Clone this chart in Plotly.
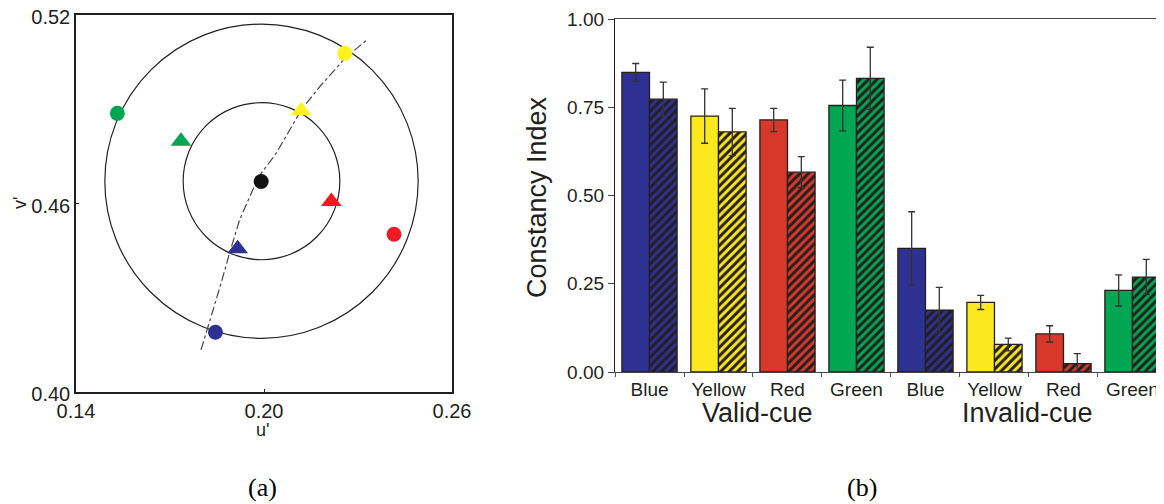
import plotly.graph_objects as go

# ---------------- Panel (a) data ----------------
circle_u = [0.1845, 0.2258, 0.2415, 0.1532]   # blue, yellow, red, green (outer ring)
circle_v = [0.4190, 0.5078, 0.4502, 0.4887]
tri_u = [0.1916, 0.2119, 0.2215, 0.1735]      # blue, yellow, red, green (inner ring)
tri_v = [0.4456, 0.4895, 0.4606, 0.4798]
point_colors = ["#2E3192", "#FFF21F", "#ED1C24", "#00A651"]
neutral_u = [0.1991]
neutral_v = [0.4670]
ring_center = (0.1992, 0.4671)
ring_radii = [0.025, 0.050]
locus_u = [0.1799, 0.1820, 0.1863, 0.1890, 0.1922, 0.1964, 0.1991, 0.2039,
           0.2082, 0.2119, 0.2178, 0.2258, 0.2325]
locus_v = [0.4134, 0.4203, 0.4346, 0.4442, 0.4548, 0.4643, 0.4696, 0.4760,
           0.4834, 0.4898, 0.4972, 0.5062, 0.5118]
a_xticks = [0.14, 0.20, 0.26]
a_yticks = [0.40, 0.46, 0.52]

# ---------------- Panel (b) data ----------------
categories = ["Blue", "Yellow", "Red", "Green", "Blue", "Yellow", "Red", "Green"]
bar_colors = ["#2E3192", "#FCE81E", "#D7382A", "#00A651",
              "#2E3192", "#FCE81E", "#D7382A", "#00A651"]
solid_vals = [0.849, 0.725, 0.714, 0.755, 0.350, 0.197, 0.108, 0.231]
solid_err = [0.025, 0.077, 0.033, 0.072, 0.104, 0.020, 0.023, 0.044]
hatch_vals = [0.773, 0.680, 0.566, 0.832, 0.175, 0.078, 0.024, 0.269]
hatch_err = [0.048, 0.067, 0.044, 0.088, 0.065, 0.018, 0.028, 0.050]
b_yticks = [0.0, 0.25, 0.5, 0.75, 1.0]
b_yticktext = ["0.00", "0.25", "0.50", "0.75", "1.00"]
group_labels = ["Valid-cue", "Invalid-cue"]

FONT = "Liberation Sans, Arial, sans-serif"
SERIF = "Liberation Serif, Times New Roman, serif"
DARK = "#231F20"

# The page body has an 8px margin, so the figure is drawn 8px smaller and
# every reference pixel position is shifted by that offset.
OFF = 8
W, H = 1164 - OFF, 504 - OFF


def fx(px):
    return (px - OFF) / W


def fy(py):
    return (H - (py - OFF)) / H


fig = go.Figure()

# Panel (a)
fig.add_trace(go.Scatter(x=locus_u, y=locus_v, mode="lines",
                         line=dict(color="#444444", width=1.2, dash="dashdot"),
                         xaxis="x", yaxis="y", showlegend=False, hoverinfo="skip"))
fig.add_trace(go.Scatter(x=circle_u, y=circle_v, mode="markers",
                         marker=dict(symbol="circle", size=15, color=point_colors,
                                     line=dict(width=0)),
                         xaxis="x", yaxis="y", showlegend=False))
fig.add_trace(go.Scatter(x=tri_u, y=tri_v, mode="markers",
                         marker=dict(symbol="triangle-up", size=18, color=point_colors,
                                     line=dict(width=0)),
                         xaxis="x", yaxis="y", showlegend=False))
fig.add_trace(go.Scatter(x=neutral_u, y=neutral_v, mode="markers",
                         marker=dict(symbol="circle", size=15, color="#111111"),
                         xaxis="x", yaxis="y", showlegend=False))

shapes = []
for r in ring_radii:
    shapes.append(dict(type="circle", xref="x", yref="y", layer="below",
                       x0=ring_center[0] - r, x1=ring_center[0] + r,
                       y0=ring_center[1] - r, y1=ring_center[1] + r,
                       line=dict(color="#222222", width=1.2)))

# Panel (b)
x_pos = list(range(len(categories)))
fig.add_trace(go.Bar(x=x_pos, y=solid_vals, xaxis="x2", yaxis="y2",
                     marker=dict(color=bar_colors, line=dict(color=DARK, width=1.3)),
                     error_y=dict(type="data", array=solid_err, color="#333333",
                                  thickness=1.3, width=3.5),
                     showlegend=False))
fig.add_trace(go.Bar(x=x_pos, y=hatch_vals, xaxis="x2", yaxis="y2",
                     marker=dict(color=DARK, line=dict(color=DARK, width=1.3),
                                 pattern=dict(shape="/", fgcolor=DARK, bgcolor=bar_colors,
                                              fgopacity=1, size=6, solidity=0.5,
                                              fillmode="replace")),
                     error_y=dict(type="data", array=hatch_err, color="#333333",
                                  thickness=1.3, width=3.5),
                     showlegend=False))


def ann(text, px, py, size, angle=0, family=FONT, color=DARK):
    return dict(text=text, x=fx(px), y=fy(py), xref="paper", yref="paper",
                showarrow=False, textangle=angle, xanchor="center", yanchor="middle",
                font=dict(family=family, size=size, color=color))


annotations = [
    ann(group_labels[0], 757.5, 413, 27),
    ann(group_labels[1], 1027.5, 413, 27),
    ann("Constancy Index", 537, 197, 27, angle=-90),
    ann("u'", 262, 430, 18),
    ann("v'", 20, 203, 18, angle=-90),
    ann("(a)", 262, 487, 26, family=SERIF, color="#000000"),
    ann("(b)", 862, 487, 26, family=SERIF, color="#000000"),
]

fig.update_layout(
    width=W, height=H,
    margin=dict(l=0, r=0, t=0, b=0, pad=0, autoexpand=False),
    paper_bgcolor="white", plot_bgcolor="white",
    barmode="group", bargap=0.2, bargroupgap=0,
    font=dict(family=FONT, color=DARK),
    shapes=shapes, annotations=annotations,
    xaxis=dict(domain=[fx(76), fx(452)], range=[0.14, 0.26], automargin=False,
               tickvals=a_xticks, ticktext=["%.2f" % v for v in a_xticks],
               ticks="inside", ticklen=3, tickcolor=DARK, ticklabeloverflow="allow",
               showline=True, linecolor=DARK, linewidth=1.5, mirror=True,
               showgrid=False, zeroline=False,
               tickfont=dict(family=FONT, size=20, color=DARK)),
    yaxis=dict(domain=[fy(392), fy(15)], range=[0.40, 0.52], automargin=False,
               tickvals=a_yticks, ticktext=["%.2f" % v for v in a_yticks],
               ticks="inside", ticklen=3, tickcolor=DARK, ticklabeloverflow="allow",
               ticklabelshift=2,
               showline=True, linecolor=DARK, linewidth=1.5, mirror=True,
               showgrid=False, zeroline=False,
               tickfont=dict(family=FONT, size=20, color=DARK)),
    xaxis2=dict(domain=[fx(615), 1.0], range=[-0.5, 7.457], anchor="y2", automargin=False,
                tickvals=x_pos, ticktext=categories, ticks="", ticklabeloverflow="allow",
                minor=dict(ticks="outside", tick0=0.5, dtick=1, ticklen=4,
                           tickcolor="#555555", showgrid=False),
                showline=True, linecolor="#444444", linewidth=1.3, mirror=True,
                showgrid=False, zeroline=False,
                tickfont=dict(family=FONT, size=19, color=DARK)),
    yaxis2=dict(domain=[fy(372), fy(19)], range=[0, 1], anchor="x2",
                automargin=False, ticklabeloverflow="allow",
                tickvals=b_yticks, ticktext=b_yticktext,
                ticks="outside", ticklen=6, tickcolor="#444444",
                showline=True, linecolor=DARK, linewidth=1.3,
                showgrid=False, zeroline=False,
                tickfont=dict(family=FONT, size=19, color=DARK)),
)

fig.write_html("out.html")
